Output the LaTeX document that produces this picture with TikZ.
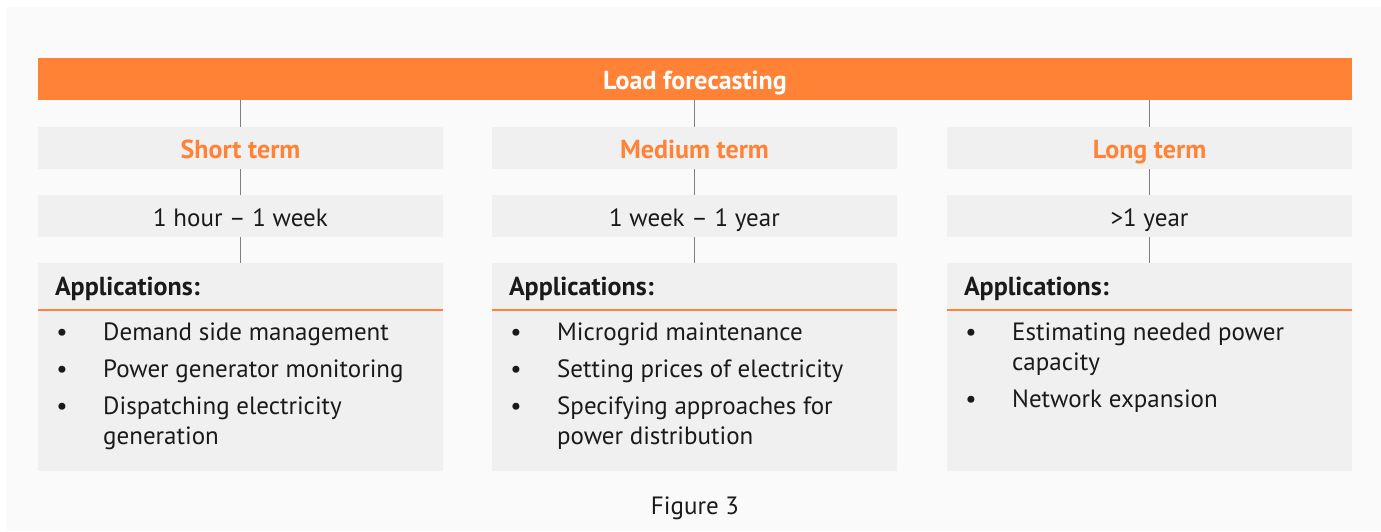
\documentclass[tikz,border=0pt]{standalone}
\usepackage{fontspec}
\setmainfont{PT Sans}
\definecolor{accent}{HTML}{FF8237}
\definecolor{boxgray}{HTML}{F0F0F0}
\definecolor{panel}{HTML}{FAFAFA}
\definecolor{ink}{HTML}{1A1A1A}
\definecolor{stem}{HTML}{7F7F7F}
\newcommand{\boldtxt}{\fontsize{26}{30}\selectfont\bfseries}
\newcommand{\plaintxt}{\fontsize{25}{30}\selectfont}
% lines of one item, with the first line's baseline as the node's baseline
\newcommand{\lines}[1]{\begin{tabular}[t]{@{}l@{}}#1\end{tabular}}
\begin{document}
\begin{tikzpicture}[x=1pt,y=-1pt,
  bar/.style={fill=accent, minimum width=1314pt, minimum height=42pt, inner sep=0pt,
    text height=20pt, text depth=0pt, text=white, font=\boldtxt},
  termbox/.style={fill=boxgray, minimum width=405pt, minimum height=42pt, inner sep=0pt,
    text height=20pt, text depth=0pt, text=accent, font=\boldtxt},
  rangebox/.style={fill=boxgray, minimum width=405pt, minimum height=42pt, inner sep=0pt,
    text height=20pt, text depth=0pt, text=ink, font=\plaintxt},
  appbox/.style={fill=boxgray, minimum width=405pt, minimum height=208pt, inner sep=0pt},
  apphead/.style={anchor=base west, inner sep=0pt, text=ink, font=\boldtxt},
  bulletmark/.style={anchor=base, inner sep=0pt, text=ink, font=\plaintxt},
  itemtext/.style={anchor=base west, inner sep=0pt, text=ink, font=\plaintxt},
  stemline/.style={draw=stem, line width=1.3pt},
  rule/.style={draw=accent, line width=2pt}]
\useasboundingbox (0,0) rectangle (1381,531);
\fill[white] (0,0) rectangle (1381,531);
\fill[panel] (6,7) rectangle (1381,531);

% top bar
\node[bar] (load) at (695,79) {Load forecasting};

% three columns
\foreach \c/\x/\term/\range in {s/240.5/Short term/1 hour -- 1 week,
                                 m/694.5/Medium term/1 week -- 1 year,
                                 l/1149.5/Long term/>1 year}{
  \node[termbox] (\c term) at (\x,148) {\term};
  \node[rangebox] (\c range) at (\x,216) {\range};
  \node[appbox] (\c app) at (\x,367) {};
  \draw[stemline] (load.south -| \c term.north) -- (\c term.north);
  \draw[stemline] (\c term.south) -- (\c range.north);
  \draw[stemline] (\c range.south) -- (\c app.north);
  \node[apphead] (\c head) at ([xshift=17pt,yshift=-33pt]\c app.north west) {Applications:};
  \draw[rule] ([yshift=-47.5pt]\c app.north west) -- ([yshift=-47.5pt]\c app.north east);
}

% short term applications
\node[bulletmark] (sb1) at (62,340) {•};
\node[itemtext] (si1) at (103,340) {Demand side management};
\node[bulletmark] (sb2) at (62,377) {•};
\node[itemtext] (si2) at (103,377) {Power generator monitoring};
\node[bulletmark] (sb3) at (62,414) {•};
\node[itemtext] (si3) at (103,414) {\lines{Dispatching electricity\\generation}};

% medium term applications
\node[bulletmark] (mb1) at (516,340) {•};
\node[itemtext] (mi1) at (557,340) {Microgrid maintenance};
\node[bulletmark] (mb2) at (516,377) {•};
\node[itemtext] (mi2) at (557,377) {Setting prices of electricity};
\node[bulletmark] (mb3) at (516,414) {•};
\node[itemtext] (mi3) at (557,414) {\lines{Specifying approaches for\\power distribution}};

% long term applications
\node[bulletmark] (lb1) at (971,340) {•};
\node[itemtext] (li1) at (1012,340) {\lines{Estimating needed power\\capacity}};
\node[bulletmark] (lb2) at (971,407) {•};
\node[itemtext] (li2) at (1012,407) {Network expansion};

% caption
\node[anchor=base, inner sep=0pt, text=ink, font=\plaintxt] (caption) at (695,514) {Figure 3};
\end{tikzpicture}
\end{document}
